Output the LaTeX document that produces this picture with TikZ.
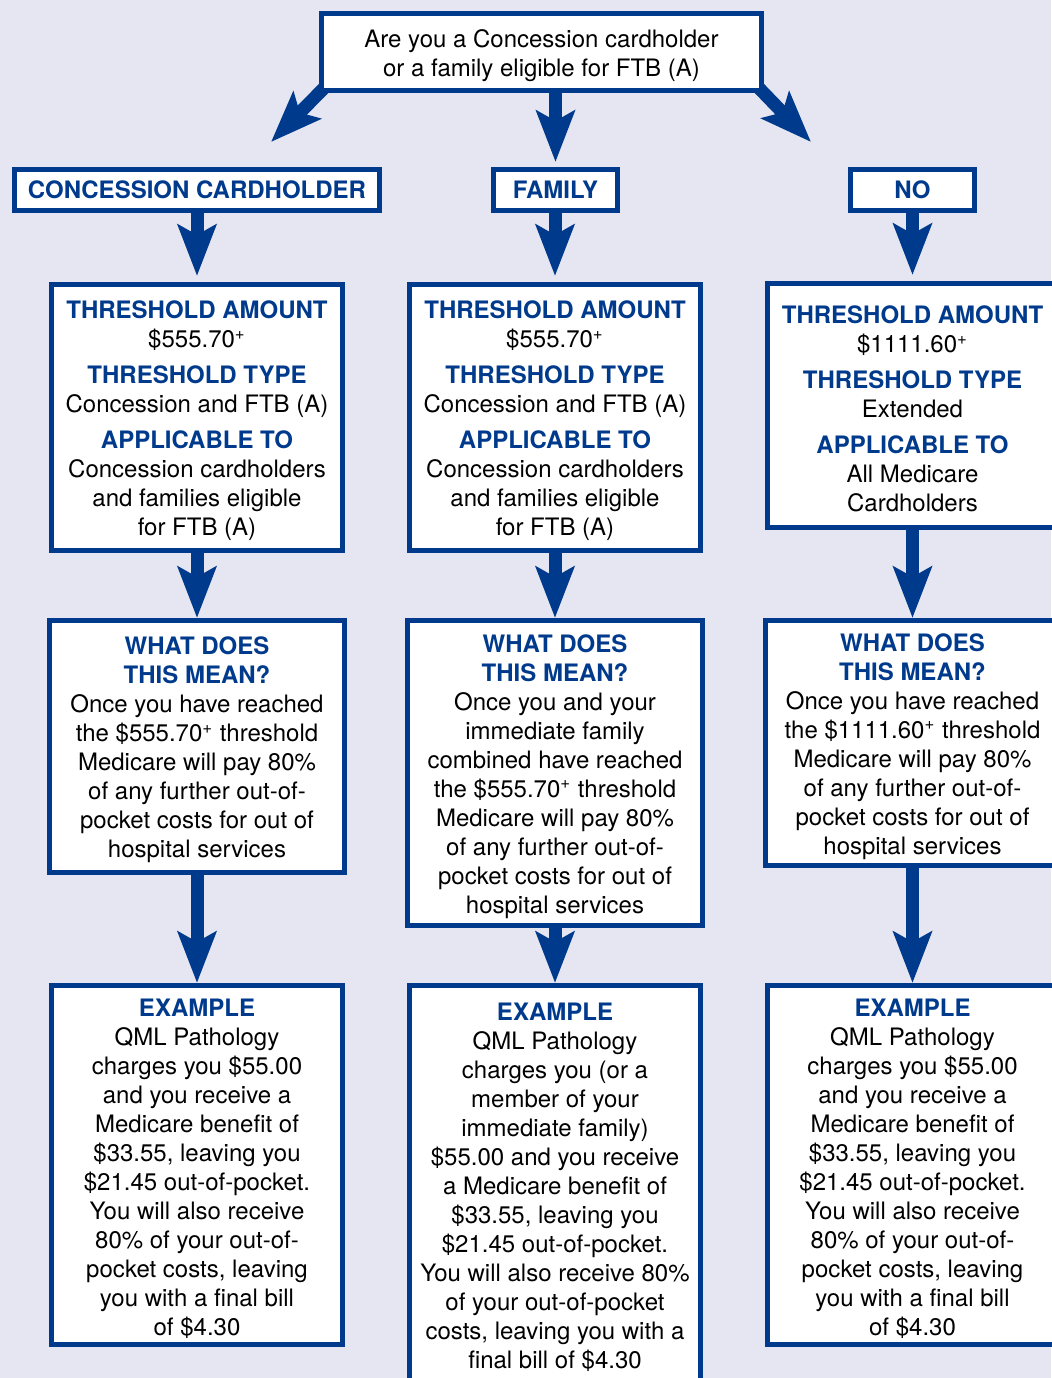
\documentclass[tikz,border=0pt]{standalone}
\usepackage{fontspec}
\setmainfont{TeX Gyre Heros}
\usepackage{tikz}
\usetikzlibrary{arrows.meta}
\pgfdeclarelayer{background}
\pgfdeclarelayer{foreground}
\pgfsetlayers{background,main,foreground}
\definecolor{qblue}{RGB}{0,58,140}
\definecolor{qback}{RGB}{230,230,242}
\newcommand{\hd}[1]{{\color{qblue}\bfseries #1}}
\newcommand{\plus}{\textsuperscript{+}}
\newcommand{\firstline}{\rule{0pt}{12.4bp}}

\begin{document}
\begin{tikzpicture}[x=0.5bp, y=-0.5bp,
							boxnode/.style={draw=qblue, fill=white, line width=2.5bp, inner sep=0pt, align=center, font=\fontsize{12bp}{14.5bp}\selectfont},
							colnode/.style={boxnode, minimum width=145.5bp},
							arrowline/.style={qblue, line width=6.5bp, -{Stealth[length=25.5bp, width=19bp, inset=5bp]}},
							]
							\useasboundingbox (0,0) rectangle (1051,1378);
							%Nodes
							\node[colnode, minimum width=220bp, minimum height=38.5bp]	(top)	at	(541.5,52)	{\firstline Are you a Concession cardholder\\or a family eligible for FTB (A)};
							\node[boxnode, minimum width=182.5bp, minimum height=20.5bp]	(cc)	at	(197,190)	{\hd{CONCESSION CARDHOLDER}};
							\node[boxnode, minimum width=62bp, minimum height=20.5bp]	(fam)	at	(555.5,190)	{\hd{FAMILY}};
							\node[boxnode, minimum width=62bp, minimum height=20.5bp]	(no)	at	(912.5,190)	{\hd{NO}};
							\coordinate	(toL)	at	(271,142);
							\coordinate	(toR)	at	(811,142);
							
							\node[colnode, minimum height=133bp]	(thrL)	at	(197,417.5)	{\firstline\hd{THRESHOLD AMOUNT}\\\$555.70\plus\\[3.5bp]\hd{THRESHOLD TYPE}\\Concession and FTB (A)\\[3.5bp]\hd{APPLICABLE TO}\\Concession cardholders\\and families eligible\\for FTB (A)};
							\node[colnode, minimum height=133bp]	(thrM)	at	(555,417.5)	{\firstline\hd{THRESHOLD AMOUNT}\\\$555.70\plus\\[3.5bp]\hd{THRESHOLD TYPE}\\Concession and FTB (A)\\[3.5bp]\hd{APPLICABLE TO}\\Concession cardholders\\and families eligible\\for FTB (A)};
							\node[colnode, minimum height=122bp]	(thrR)	at	(912.5,405.5)	{\firstline\hd{THRESHOLD AMOUNT}\\\$1111.60\plus\\[3.5bp]\hd{THRESHOLD TYPE}\\Extended\\[3.5bp]\hd{APPLICABLE TO}\\All Medicare\\Cardholders};
							
							\node[colnode, minimum width=147.5bp, minimum height=126bp]	(meanL)	at	(197,746.5)	{\firstline\hd{WHAT DOES}\\\hd{THIS MEAN?}\\Once you have reached\\the \$555.70\plus{} threshold\\Medicare will pay 80\%\\of any further out-of-\\pocket costs for out of\\hospital services};
							\node[colnode, minimum width=147.5bp, minimum height=152.5bp]	(meanM)	at	(555,773)	{\firstline\hd{WHAT DOES}\\\hd{THIS MEAN?}\\Once you and your\\immediate family\\combined have reached\\the \$555.70\plus{} threshold\\Medicare will pay 80\%\\of any further out-of-\\pocket costs for out of\\hospital services};
							\node[colnode, minimum width=147.5bp, minimum height=122.5bp]	(meanR)	at	(912.5,743)	{\firstline\hd{WHAT DOES}\\\hd{THIS MEAN?}\\Once you have reached\\the \$1111.60\plus{} threshold\\Medicare will pay 80\%\\of any further out-of-\\pocket costs for out of\\hospital services};
							
							\node[colnode, minimum height=179.5bp]	(exL)	at	(197,1165)	{\firstline\hd{EXAMPLE}\\QML Pathology\\charges you \$55.00\\and you receive a\\Medicare benefit of\\\$33.55, leaving you\\\$21.45 out-of-pocket.\\You will also receive\\80\% of your out-of-\\pocket costs, leaving\\you with a final bill\\of \$4.30};
							\node[colnode, minimum height=198.5bp]	(exM)	at	(555,1184)	{\firstline\hd{EXAMPLE}\\QML Pathology\\charges you (or a\\member of your\\immediate family)\\\$55.00 and you receive\\a Medicare benefit of\\\$33.55, leaving you\\\$21.45 out-of-pocket.\\You will also receive 80\%\\of your out-of-pocket\\costs, leaving you with a\\final bill of \$4.30};
							\node[colnode, minimum height=179.5bp]	(exR)	at	(912.5,1165)	{\firstline\hd{EXAMPLE}\\QML Pathology\\charges you \$55.00\\and you receive a\\Medicare benefit of\\\$33.55, leaving you\\\$21.45 out-of-pocket.\\You will also receive\\80\% of your out-of-\\pocket costs, leaving\\you with a final bill\\of \$4.30};
							
							\begin{pgfonlayer}{background}
							
							\fill[qback] (0,0) rectangle (1051,1378);
							
							\draw[arrowline] ([shift={(8,-8)}]top.south west) -- (toL);
							\draw[arrowline] ([shift={(-8,-8)}]top.south east) -- (toR);
							\draw[arrowline, shorten >=2.5bp] (top.south -| fam) -- (fam);
							\draw[arrowline, shorten >=3bp] (cc) -- (thrL);
							\draw[arrowline, shorten >=3bp] (fam.south -| thrM) -- (thrM);
							\draw[arrowline, shorten >=3bp] (no) -- (thrR);
							\draw[arrowline] (thrL) -- (meanL);
							\draw[arrowline] (thrM) -- (meanM);
							\draw[arrowline] (thrR) -- (meanR);
							\draw[arrowline] (meanL) -- (exL);
							\draw[arrowline] (meanM) -- (exM);
							\draw[arrowline] (meanR) -- (exR);
							
							\end{pgfonlayer}
						\end{tikzpicture}
\end{document}
